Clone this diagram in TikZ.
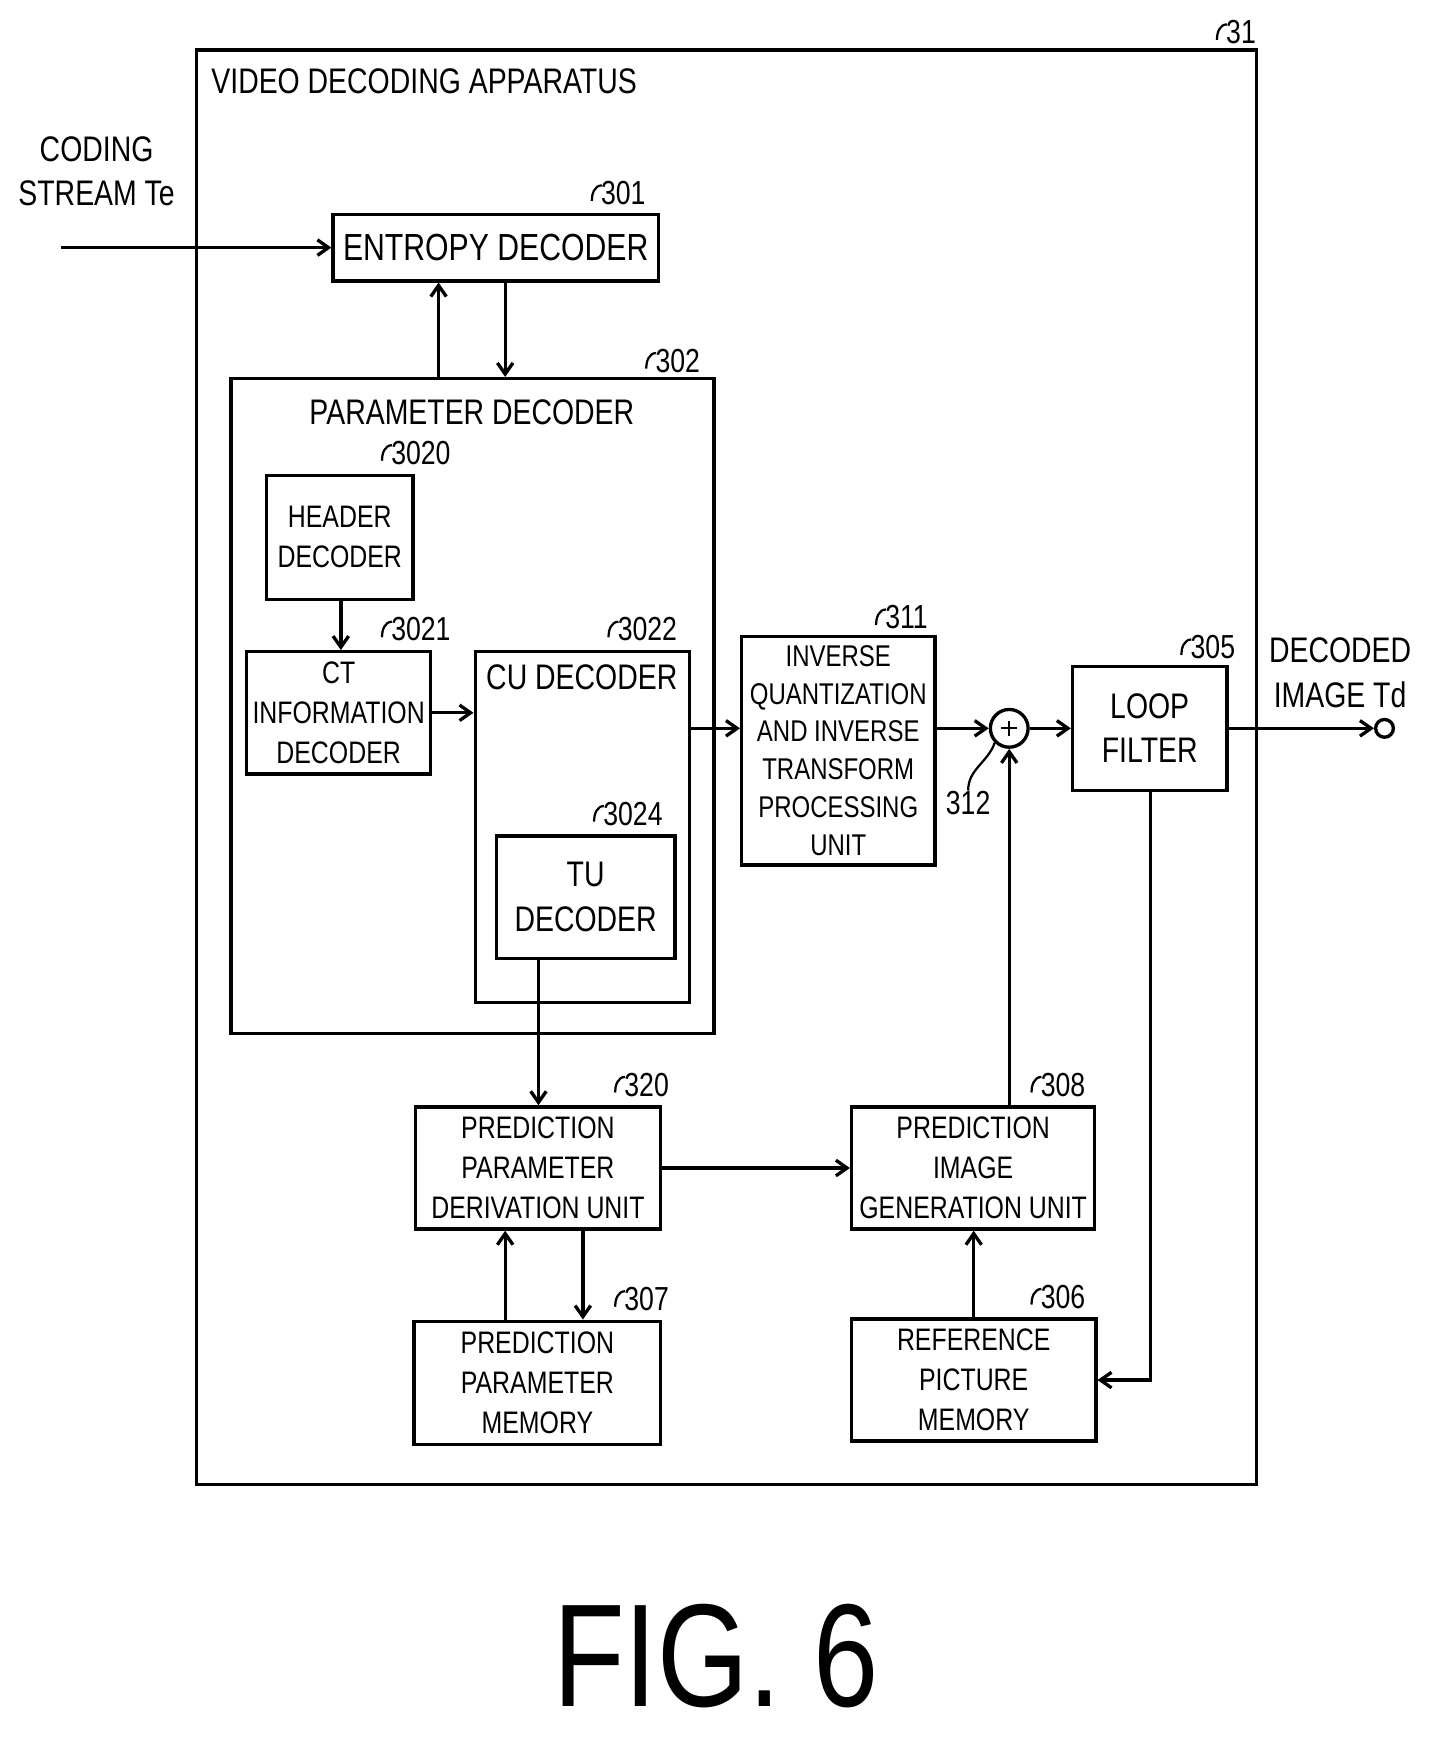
\documentclass[tikz,border=0pt]{standalone}
\usepackage{fontspec}
\setmainfont{Liberation Sans}[FakeStretch=0.8]
\usetikzlibrary{calc,arrows.meta}
\begin{document}
\begin{tikzpicture}[x=0.5pt,y=-0.5pt,
  box/.style={draw,line width=1.5pt,inner sep=0pt,align=center,font=\fontsize{14}{18}\selectfont},
  lab/.style={anchor=south west,inner sep=0pt,font=\fontsize{15}{18}\selectfont},
  arr/.style={line width=1.5pt,-{Straight Barb[length=5pt,width=7pt]}},
  ln/.style={line width=1.5pt}]
\useasboundingbox (0,0) rectangle (1294,1569);
\newcommand\bx[7][]{\node[box,minimum width={(#5-#3)*0.5pt},minimum height={(#6-#4)*0.5pt},#1] (#2) at ({(#3+#5)/2},{(#4+#6)/2}) {#7};}
\newcommand\rl[4]{\node[lab] (#1) at (#2,#3) {#4};
  \draw[line width=1pt] ($(#1.north west)+(1,4)$) to[out=180,in=90] ($(#1.north west)+(-8,18)$);}
% outer
\bx{outer}{177}{45}{1132}{1337}{}
\rl{l31}{1104}{40}{31}
\node[anchor=west,inner sep=0pt,font=\fontsize{16}{19}\selectfont] (title) at (190,73) {VIDEO DECODING APPARATUS};
\node[align=center,inner sep=0pt,font=\fontsize{16}{20}\selectfont] (cs) at (87,154) {CODING\\STREAM Te};
\coordinate (in) at (55,223);
% boxes
\bx[font=\fontsize{17}{20}\selectfont]{ent}{300}{193}{593}{253}{ENTROPY DECODER}
\rl{l301}{541}{185}{301}
\bx{par}{208}{341}{643}{931}{}
\node[inner sep=0pt,font=\fontsize{16}{19}\selectfont] (pt) at (425,371) {PARAMETER DECODER};
\rl{l302}{590}{336}{302}
\bx{hdr}{240}{428}{372}{540}{HEADER\\DECODER}
\rl{l3020}{352}{419}{3020}
\bx{ct}{222}{587}{388}{697}{CT\\INFORMATION\\DECODER}
\rl{l3021}{352}{578}{3021}
\bx{cu}{428}{587}{621}{903}{}
\node[inner sep=0pt,font=\fontsize{16}{19}\selectfont] (cut) at (524,610) {CU DECODER};
\rl{l3022}{556}{578}{3022}
\bx[font=\fontsize{16}{20}\selectfont]{tu}{447}{753}{608}{863}{TU\\DECODER}
\rl{l3024}{543}{744}{3024}
\bx[font=\fontsize{13.5}{17}\selectfont]{iq}{668}{573}{842}{779}{INVERSE\\QUANTIZATION\\AND INVERSE\\TRANSFORM\\PROCESSING\\UNIT}
\rl{l311}{797}{567}{311}
\node[draw,circle,line width=1.5pt,minimum size=17pt,inner sep=0pt] (sum) at (909,656) {};
\draw[line width=1pt] (sum.center)++(-7,0) -- ++(14,0) (sum.center)++(0,-7) -- ++(0,14);
\node[lab,anchor=center] (l312) at (872,723) {312};
\draw[line width=1pt] (l312.north) to[out=90,in=250] (sum.south west);
\bx[font=\fontsize{16}{20}\selectfont]{lf}{966}{600}{1105}{712}{LOOP\\FILTER}
\rl{l305}{1072}{594}{305}
\node[draw,circle,line width=1.5pt,minimum size=8pt,inner sep=0pt] (out) at (1247,656) {};
\node[align=center,inner sep=0pt,font=\fontsize{16}{20}\selectfont] (dec) at (1207,606) {DECODED\\IMAGE Td};
\bx{ppd}{374}{997}{595}{1107}{PREDICTION\\PARAMETER\\DERIVATION UNIT}
\rl{l320}{562}{988}{320}
\bx{pig}{767}{997}{986}{1107}{PREDICTION\\IMAGE\\GENERATION UNIT}
\rl{l308}{937}{988}{308}
\bx{ppm}{373}{1190}{595}{1301}{PREDICTION\\PARAMETER\\MEMORY}
\rl{l307}{562}{1181}{307}
\bx{rpm}{767}{1188}{987}{1298}{REFERENCE\\PICTURE\\MEMORY}
\rl{l306}{937}{1179}{306}
\node[inner sep=0pt,font=\fontsize{66}{70}\selectfont] (fig) at (645,1492) {FIG. 6};
% connectors
\draw[arr] (in) -- (ent.west);
\draw[arr] (par.north -| 395,0) -- (ent.south -| 395,0);
\draw[arr] (ent.south -| 455,0) -- (par.north -| 455,0);
\draw[arr] (hdr.south -| 307,0) -- (ct.north -| 307,0);
\draw[arr] (ct.east) -- (ct.east -| cu.west);
\draw[arr] (cu.east |- 0,656) -- (iq.west |- 0,656);
\draw[arr] (iq.east |- sum) -- (sum.west);
\draw[arr] (sum.east) -- (lf.west |- sum);
\draw[arr] (lf.east |- out) -- (out.west);
\draw[arr] (tu.south -| 485,0) -- (ppd.north -| 485,0);
\draw[arr] (ppd.east |- 0,1052) -- (pig.west |- 0,1052);
\draw[arr] (pig.north -| sum) -- (sum.south);
\draw[arr] (ppm.north -| 455,0) -- (ppd.south -| 455,0);
\draw[arr] (ppd.south -| 525,0) -- (ppm.north -| 525,0);
\draw[arr] (rpm.north -| 877,0) -- (pig.south -| 877,0);
\draw[arr] (lf.south -| 1036,0) -- (1036,1243) -- (rpm.east |- 0,1243);
\end{tikzpicture}
\end{document}
